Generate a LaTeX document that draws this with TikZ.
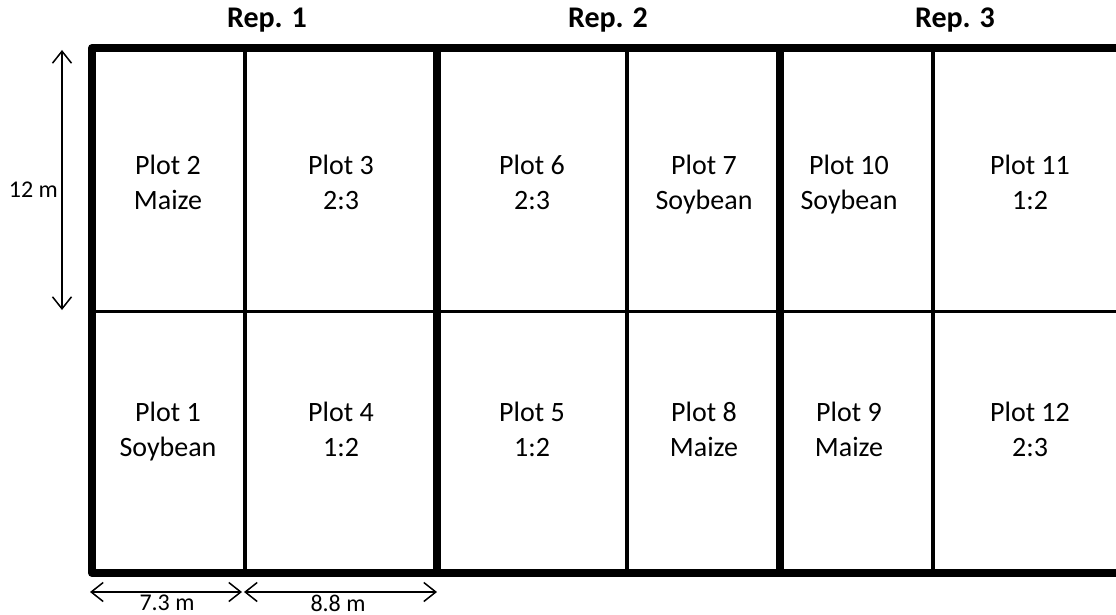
\documentclass[tikz,border=0pt]{standalone}
\usepackage{fontspec}
\setmainfont{Carlito}
\usetikzlibrary{positioning,arrows.meta}

\tikzset{
  plotlabel/.style={align=center,font=\fontsize{28}{35}\selectfont,execute at end node={\strut}},
  replabel/.style={font=\bfseries\fontsize{30}{36}\selectfont},
  dimlabel/.style={font=\fontsize{24}{28}\selectfont,inner sep=1pt},
  measure/.style={{Straight Barb[length=12pt,width=19pt]}-{Straight Barb[length=12pt,width=19pt]},line width=1.5pt}
}

\begin{document}
\begin{tikzpicture}[x=1pt,y=-1pt]
\useasboundingbox (0,0) rectangle (1116,615);
\clip (0,0) rectangle (1116,615);

% field grid
\draw [line width=3pt] (92,311) -- (1130,311);
\draw [line width=3.5pt] (245,48) -- (245,573);
\draw [line width=3.5pt] (627,48) -- (627,573);
\draw [line width=3.5pt] (933,48) -- (933,573);
\draw [line width=8pt] (437,48) -- (437,573);
\draw [line width=8pt] (780,48) -- (780,573);
\draw [line width=8pt,line join=round] (1130,48) -- (92,48) -- (92,573) -- (1130,573);

% plots
\foreach \x/\up/\down/\n in {168/{Plot 2\\Maize}/{Plot 1\\Soybean}/1,
                             341/{Plot 3\\2:3}/{Plot 4\\1:2}/2,
                             532/{Plot 6\\2:3}/{Plot 5\\1:2}/3,
                             704/{Plot 7\\Soybean}/{Plot 8\\Maize}/4,
                             849/{Plot 10\\Soybean}/{Plot 9\\Maize}/5,
                             1030/{Plot 11\\1:2}/{Plot 12\\2:3}/6}
{
  \node [plotlabel] (top\n) at (\x,188) {\up};
  \node [plotlabel] (bot\n) at (\x,435) {\down};
}

% replicates
\node [replabel] (rep1) at (267,20) {Rep. 1};
\node [replabel] (rep2) at (608,20) {Rep. 2};
\node [replabel] (rep3) at (955,20) {Rep. 3};

% dimensions
\coordinate (htop) at (62,50);
\coordinate (hbot) at (62,310);
\draw [measure] (htop) -- (hbot);
\node [dimlabel,left=3pt] (h) at (62,190) {12 m};

\coordinate (w0) at (90,592);
\coordinate (w1) at (242,592);
\coordinate (w1b) at (244,592);
\coordinate (w2) at (437,592);
\draw [measure] (w0) -- (w1);
\draw [measure] (w1b) -- (w2);
\node [dimlabel] (w73) at (167,603) {7.3 m};
\node [dimlabel] (w88) at (338,603) {8.8 m};
\end{tikzpicture}
\end{document}
